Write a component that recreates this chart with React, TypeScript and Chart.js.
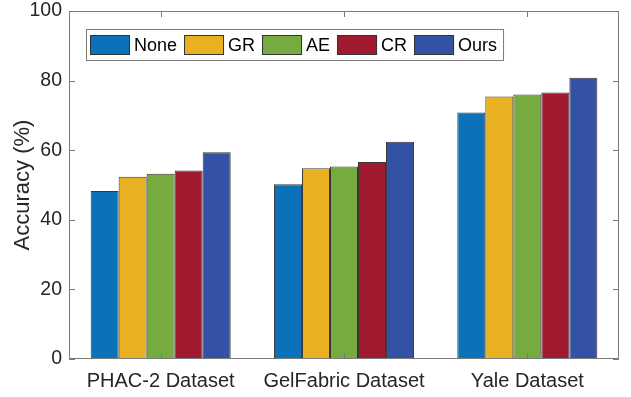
import React, { useEffect, useRef } from "react";
import { Chart, registerables } from "chart.js";

Chart.register(...registerables);

const categories = ["PHAC-2 Dataset", "GelFabric Dataset", "Yale Dataset"];
const seriesNames = ["None", "GR", "AE", "CR", "Ours"];
const noneValues = [48.3, 50.2, 70.8];
const grValues = [52.4, 54.8, 75.4];
const aeValues = [53.2, 55.3, 76.0];
const crValues = [54.2, 56.6, 76.6];
const oursValues = [59.4, 62.4, 80.8];
const seriesColors = ["#0B72B9", "#E9B122", "#76AC3F", "#A11B30", "#3352A3"];
const yTicks = [0, 20, 40, 60, 80, 100];

const FONT = "'Liberation Sans', Arial, Helvetica, sans-serif";
const AXIS_COLOR = "#7a7a7a";
const TEXT_COLOR = "#262626";

const boxPlugin = {
  id: "matlabBox",
  afterDatasetsDraw(chart: any) {
    const { ctx, chartArea } = chart;
    const { left, right, top, bottom } = chartArea;
    const xs = chart.scales.x;
    const ys = chart.scales.y;
    ctx.save();
    ctx.strokeStyle = AXIS_COLOR;
    ctx.lineWidth = 1;
    ctx.beginPath();
    ctx.rect(Math.round(left) + 0.5, Math.round(top) + 0.5, Math.round(right - left) - 1, Math.round(bottom - top) - 1);
    ctx.stroke();
    const tl = 6;
    ctx.beginPath();
    yTicks.forEach((v) => {
      const y = Math.round(ys.getPixelForValue(v)) + 0.5;
      ctx.moveTo(left, y);
      ctx.lineTo(left + tl, y);
      ctx.moveTo(right, y);
      ctx.lineTo(right - tl, y);
    });
    categories.forEach((_, i) => {
      const x = Math.round(xs.getPixelForValue(i)) + 0.5;
      ctx.moveTo(x, bottom);
      ctx.lineTo(x, bottom - tl);
      ctx.moveTo(x, top);
      ctx.lineTo(x, top + tl);
    });
    ctx.stroke();
    ctx.restore();
  },
  afterDraw(chart: any) {
    const { ctx } = chart;
    ctx.save();
    ctx.font = `18px ${FONT}`;
    const boxX = 86;
    const boxY = 29;
    const boxH = 32;
    const swW = 40;
    const swH = 20;
    const padL = 4;
    const padR = 7;
    const gapST = 4;
    const gapItem = 7;
    let width = padL;
    const items = chart.data.datasets.map((ds: any) => {
      const w = ctx.measureText(ds.label).width;
      return { label: ds.label, color: ds.backgroundColor, w };
    });
    items.forEach((it: any, i: number) => {
      width += swW + gapST + it.w + (i < items.length - 1 ? gapItem : 0);
    });
    width += padR;
    ctx.fillStyle = "#ffffff";
    ctx.fillRect(boxX, boxY, width, boxH);
    ctx.strokeStyle = AXIS_COLOR;
    ctx.lineWidth = 1;
    ctx.strokeRect(boxX + 0.5, boxY + 0.5, width - 1, boxH - 1);
    let x = boxX + padL;
    const sy = boxY + (boxH - swH) / 2;
    items.forEach((it: any) => {
      ctx.fillStyle = it.color;
      ctx.fillRect(x, sy, swW, swH);
      ctx.strokeStyle = "#333333";
      ctx.strokeRect(x + 0.5, sy + 0.5, swW - 1, swH - 1);
      x += swW + gapST;
      ctx.fillStyle = "#000000";
      ctx.textBaseline = "middle";
      ctx.textAlign = "left";
      ctx.fillText(it.label, x, boxY + boxH / 2 + 1);
      x += it.w + gapItem;
    });
    ctx.restore();
  },
};

export default function App() {
  const ref = useRef<HTMLCanvasElement | null>(null);
  useEffect(() => {
    document.body.style.margin = "0";
    if (!ref.current) return;
    const values = [noneValues, grValues, aeValues, crValues, oursValues];
    const chart = new Chart(ref.current, {
      type: "bar",
      data: {
        labels: categories,
        datasets: seriesNames.map((name, i) => ({
          label: name,
          data: values[i],
          backgroundColor: seriesColors[i],
          borderColor: "#383838",
          borderWidth: 1,
          borderSkipped: false,
          categoryPercentage: 0.764,
          barPercentage: 1,
        })),
      },
      options: {
        responsive: false,
        animation: false,
        layout: { padding: { top: 11, right: 12, left: 0, bottom: 0 } },
        plugins: {
          legend: { display: false },
          tooltip: { enabled: false },
        },
        scales: {
          x: {
            grid: { display: false, drawTicks: false },
            border: { display: false },
            ticks: {
              color: TEXT_COLOR,
              font: { family: FONT, size: 20 },
              padding: 10,
            },
            afterFit(scale: any) {
              scale.height = 38;
              scale.paddingLeft = 0;
              scale.paddingRight = 0;
            },
          },
          y: {
            min: 0,
            max: 100,
            grid: { display: false, drawTicks: false },
            border: { display: false },
            ticks: {
              stepSize: 20,
              color: TEXT_COLOR,
              font: { family: FONT, size: 19.5 },
              padding: 7,
            },
            title: {
              display: true,
              text: "Accuracy (%)",
              color: TEXT_COLOR,
              font: { family: FONT, size: 22 },
              padding: { top: 10, bottom: 0 },
            },
            afterFit(scale: any) {
              scale.width = 69;
              scale.paddingTop = 0;
              scale.paddingBottom = 0;
            },
          },
        },
      },
      plugins: [boxPlugin],
    });
    return () => chart.destroy();
  }, []);
  return (
    <div style={{ width: 631, height: 397 }}>
      <canvas ref={ref} width={631} height={397} />
    </div>
  );
}
